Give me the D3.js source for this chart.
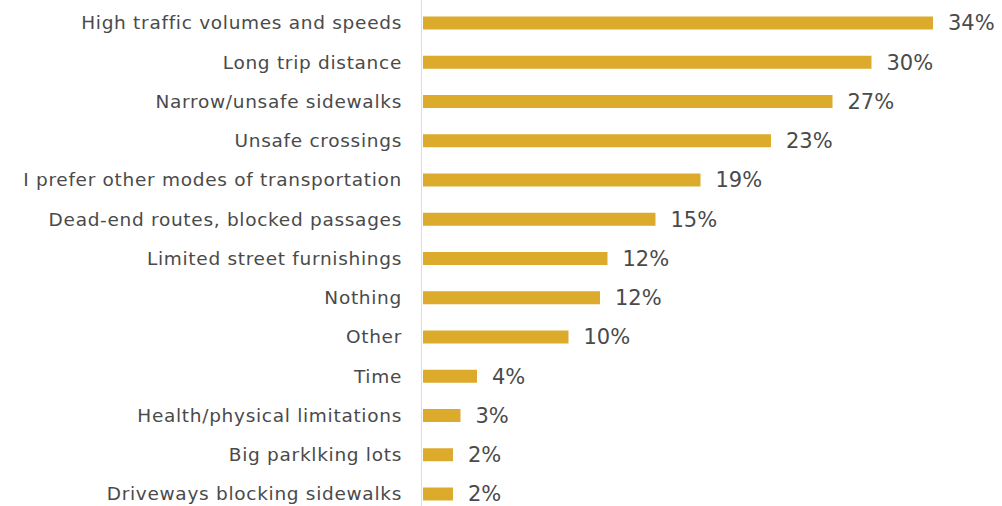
<!DOCTYPE html>
<html>
<head>
<meta charset="utf-8">
<script src="https://cdn.jsdelivr.net/npm/d3@7"></script>
<style>
  body { margin: 0; background: #fff; }
  text { font-family: "DejaVu Sans", sans-serif; fill: #4a4a4a; }
</style>
</head>
<body>
<div id="grafico"></div>
<script>
// Dados do gráfico
const categorias = [
  "High traffic volumes and speeds",
  "Long trip distance",
  "Narrow/unsafe sidewalks",
  "Unsafe crossings",
  "I prefer other modes of transportation",
  "Dead-end routes, blocked passages",
  "Limited street furnishings",
  "Nothing",
  "Other",
  "Time",
  "Health/physical limitations",
  "Big parklking lots",
  "Driveways blocking sidewalks"
];
const valores = [34, 29.9, 27.3, 23.2, 18.5, 15.5, 12.3, 11.8, 9.7, 3.6, 2.5, 2, 2];
const rotulos = ["34%", "30%", "27%", "23%", "19%", "15%", "12%", "12%", "10%", "4%", "3%", "2%", "2%"];

const width = 1002;
const height = 506;

const svg = d3.select("#grafico")
  .append("svg")
    .attr("width", width)
    .attr("height", height);

const x = d3.scaleLinear()
  .domain([0, 34])
  .range([423, 933]);

const y = d3.scalePoint()
  .domain(categorias)
  .range([23, 494]);

const barH = 13;

// linha do eixo
svg.append("line")
  .attr("x1", 421.5).attr("x2", 421.5)
  .attr("y1", 0).attr("y2", height)
  .attr("stroke", "#dedede")
  .attr("stroke-width", 1);

svg.selectAll("rect.bar")
  .data(valores)
  .enter()
  .append("rect")
    .attr("class", "bar")
    .attr("x", x(0))
    .attr("y", (d, i) => y(categorias[i]) - barH / 2)
    .attr("width", d => x(d) - x(0))
    .attr("height", barH)
    .attr("fill", "#dcab2c");

// rotulos das categorias
svg.selectAll("text.cat")
  .data(categorias)
  .enter()
  .append("text")
    .attr("class", "cat")
    .attr("x", 402)
    .attr("y", d => y(d))
    .attr("dy", "0.35em")
    .attr("text-anchor", "end")
    .attr("font-size", "18.5px")
    .attr("letter-spacing", "0.7px")
    .text(d => d);

// rotulos dos valores
svg.selectAll("text.val")
  .data(valores)
  .enter()
  .append("text")
    .attr("class", "val")
    .attr("x", d => x(d) + 15)
    .attr("y", (d, i) => y(categorias[i]))
    .attr("dy", "0.35em")
    .attr("font-size", "21px")
    .text((d, i) => rotulos[i]);
</script>
</body>
</html>
